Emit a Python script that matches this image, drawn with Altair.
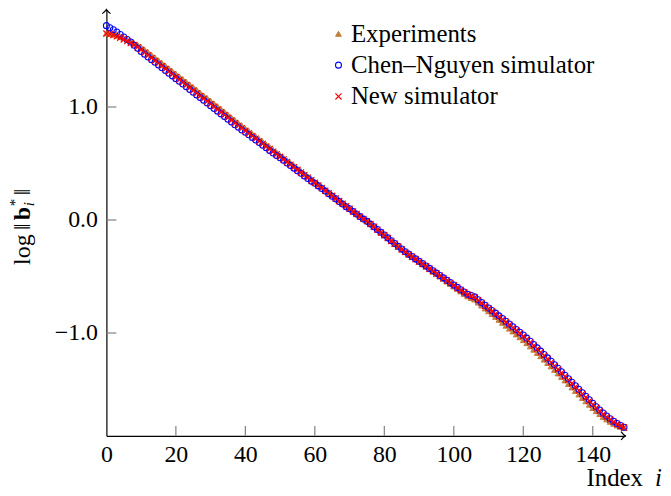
import altair as alt
import pandas as pd

FONT = "Liberation Serif"

series_names = ["Experiments", "Chen–Nguyen simulator", "New simulator"]
x_ticks = [0, 20, 40, 60, 80, 100, 120, 140]
y_ticks = [-1.0, 0.0, 1.0]

index_i = list(range(150))

experiments = [
    1.652, 1.646, 1.640, 1.631, 1.620, 1.608, 1.595, 1.580, 1.565, 1.548,
    1.530, 1.507, 1.484, 1.460, 1.436, 1.412, 1.388, 1.364, 1.340, 1.316,
    1.294, 1.270, 1.246, 1.222, 1.198, 1.174, 1.150, 1.126, 1.102, 1.078,
    1.054, 1.030, 1.006, 0.982, 0.957, 0.932, 0.906, 0.881, 0.857, 0.834,
    0.809, 0.786, 0.762, 0.739, 0.715, 0.692, 0.668, 0.645, 0.621, 0.598,
    0.574, 0.551, 0.527, 0.504, 0.480, 0.457, 0.433, 0.410, 0.386, 0.363,
    0.339, 0.316, 0.292, 0.269, 0.245, 0.222, 0.198, 0.175, 0.151, 0.128,
    0.104, 0.081, 0.057, 0.034, 0.013, -0.008, -0.034, -0.059, -0.085, -0.110,
    -0.135, -0.161, -0.186, -0.211, -0.236, -0.262, -0.284, -0.306, -0.328, -0.349,
    -0.370, -0.392, -0.413, -0.435, -0.457, -0.479, -0.500, -0.522, -0.544, -0.566,
    -0.588, -0.610, -0.632, -0.654, -0.675, -0.690, -0.703, -0.730, -0.757, -0.782,
    -0.807, -0.832, -0.857, -0.883, -0.909, -0.935, -0.961, -0.986, -1.012, -1.037,
    -1.063, -1.090, -1.118, -1.147, -1.176, -1.205, -1.235, -1.265, -1.295, -1.326,
    -1.357, -1.388, -1.419, -1.450, -1.481, -1.512, -1.543, -1.574, -1.604, -1.634,
    -1.663, -1.691, -1.717, -1.742, -1.764, -1.785, -1.803, -1.818, -1.830, -1.841,
]

chen_nguyen = [
    1.720, 1.702, 1.683, 1.663, 1.642, 1.620, 1.598, 1.575, 1.546, 1.520,
    1.491, 1.467, 1.443, 1.419, 1.395, 1.371, 1.347, 1.323, 1.299, 1.275,
    1.251, 1.227, 1.203, 1.179, 1.155, 1.131, 1.107, 1.083, 1.059, 1.035,
    1.011, 0.987, 0.963, 0.939, 0.915, 0.891, 0.867, 0.843, 0.820, 0.797,
    0.777, 0.754, 0.731, 0.708, 0.685, 0.662, 0.639, 0.616, 0.593, 0.570,
    0.551, 0.528, 0.505, 0.482, 0.459, 0.436, 0.413, 0.390, 0.367, 0.344,
    0.325, 0.302, 0.279, 0.256, 0.233, 0.210, 0.187, 0.164, 0.141, 0.118,
    0.099, 0.076, 0.053, 0.030, 0.008, -0.012, -0.036, -0.060, -0.084, -0.108,
    -0.133, -0.158, -0.183, -0.208, -0.233, -0.257, -0.280, -0.302, -0.323, -0.344,
    -0.365, -0.386, -0.407, -0.428, -0.449, -0.470, -0.491, -0.512, -0.533, -0.554,
    -0.575, -0.596, -0.617, -0.637, -0.656, -0.668, -0.680, -0.705, -0.730, -0.754,
    -0.778, -0.801, -0.824, -0.848, -0.872, -0.896, -0.920, -0.944, -0.968, -0.993,
    -1.018, -1.045, -1.073, -1.102, -1.131, -1.160, -1.190, -1.220, -1.250, -1.281,
    -1.312, -1.343, -1.374, -1.405, -1.436, -1.467, -1.498, -1.529, -1.560, -1.591,
    -1.622, -1.652, -1.681, -1.708, -1.734, -1.758, -1.780, -1.800, -1.818, -1.834,
]

new_simulator = [
    1.650, 1.645, 1.636, 1.625, 1.612, 1.598, 1.583, 1.567, 1.549, 1.530,
    1.506, 1.482, 1.458, 1.434, 1.410, 1.386, 1.362, 1.338, 1.314, 1.290,
    1.266, 1.242, 1.218, 1.194, 1.170, 1.146, 1.122, 1.098, 1.074, 1.050,
    1.026, 1.002, 0.978, 0.954, 0.930, 0.906, 0.882, 0.858, 0.835, 0.812,
    0.789, 0.766, 0.743, 0.720, 0.697, 0.674, 0.651, 0.628, 0.605, 0.582,
    0.559, 0.536, 0.513, 0.490, 0.467, 0.444, 0.421, 0.398, 0.375, 0.352,
    0.329, 0.306, 0.283, 0.260, 0.237, 0.214, 0.191, 0.168, 0.145, 0.122,
    0.099, 0.076, 0.053, 0.030, 0.010, -0.010, -0.035, -0.060, -0.085, -0.110,
    -0.135, -0.160, -0.185, -0.210, -0.235, -0.260, -0.282, -0.304, -0.325, -0.346,
    -0.367, -0.388, -0.409, -0.430, -0.451, -0.472, -0.493, -0.514, -0.535, -0.556,
    -0.577, -0.598, -0.619, -0.640, -0.660, -0.672, -0.684, -0.710, -0.735, -0.759,
    -0.783, -0.807, -0.831, -0.855, -0.879, -0.903, -0.927, -0.952, -0.977, -1.002,
    -1.028, -1.055, -1.083, -1.112, -1.141, -1.170, -1.200, -1.230, -1.260, -1.291,
    -1.322, -1.353, -1.384, -1.415, -1.446, -1.477, -1.508, -1.539, -1.570, -1.601,
    -1.632, -1.662, -1.690, -1.717, -1.742, -1.765, -1.786, -1.805, -1.822, -1.836,
]

W = 522
H = 429
X_DOMAIN = [0, 149.35]
Y_DOMAIN = [-1.91, 1.863]

BROWN = "#BF8040"
BLUE = "#0000FF"
RED = "#FF0000"
XPATH = "M-1,-1L1,1M-1,1L1,-1"

rows = []
for name, vals in zip(series_names, [experiments, chen_nguyen, new_simulator]):
    for i, v in zip(index_i, vals):
        rows.append({"i": i, "v": v, "series": name})
df = pd.DataFrame(rows)

legend = alt.Legend(
    orient="none", legendX=211, legendY=12, title=None,
    labelFont=FONT, labelFontSize=25, labelColor="black", labelOffset=0,
    symbolOffset=10,
    rowPadding=5.5, symbolSize=30, symbolStrokeWidth=1.2, padding=0,
    labelLimit=0, symbolOpacity=1,
)

x_enc = alt.X(
    "i:Q",
    scale=alt.Scale(domain=X_DOMAIN, nice=False, zero=False),
    axis=alt.Axis(
        values=x_ticks, title=None, grid=False, ticks=False, tickSize=0,
        labelPadding=7, labelFont=FONT, labelFontSize=24, labelColor="black",
        domainColor="black", domainWidth=1.2, format="d",
        labelFlush=False, labelOverlap=False,
    ),
)
y_enc = alt.Y(
    "v:Q",
    scale=alt.Scale(domain=Y_DOMAIN, nice=False, zero=False),
    axis=alt.Axis(
        values=y_ticks, title=None, grid=False, ticks=False, tickSize=0,
        labelPadding=9, labelFont=FONT, labelFontSize=24, labelColor="black",
        domainColor="black", domainWidth=1.2,
        labelExpr="datum.value < 0 ? '\u2212' + format(-datum.value, '.1f') : format(datum.value, '.1f')",
        labelFlush=False, labelOverlap=False,
    ),
)

points = alt.Chart(df).mark_point(opacity=1).encode(
    x=x_enc,
    y=y_enc,
    shape=alt.Shape("series:N", scale=alt.Scale(domain=series_names, range=["triangle-up", "circle", XPATH]), legend=legend),
    stroke=alt.Stroke("series:N", scale=alt.Scale(domain=series_names, range=[BROWN, BLUE, RED]), legend=legend),
    fill=alt.Fill("series:N", scale=alt.Scale(domain=series_names, range=[BROWN, "transparent", RED]), legend=legend),
    size=alt.Size("series:N", scale=alt.Scale(domain=series_names, range=[34, 38, 30]), legend=legend),
    strokeWidth=alt.StrokeWidth("series:N", scale=alt.Scale(domain=series_names, range=[1.0, 1.15, 1.5]), legend=legend),
)

xticks_layer = alt.Chart(pd.DataFrame({"i": x_ticks[1:]})).mark_rule(color="#808080", strokeWidth=1.2).encode(
    x=alt.X("i:Q"), y=alt.value(H), y2=alt.value(H - 10)
)
yticks_layer = alt.Chart(pd.DataFrame({"v": y_ticks})).mark_rule(color="#808080", strokeWidth=1.2).encode(
    y=alt.Y("v:Q"), x=alt.value(0), x2=alt.value(10)
)

one = pd.DataFrame({"k": [0]})
ARROW = "M-1,1Q-0.25,0.45 0,0Q0.25,0.45 1,1"
arrow_y = alt.Chart(one).mark_point(shape=ARROW, size=70, filled=False, stroke="black", strokeWidth=1.2, opacity=1).encode(
    x=alt.value(0), y=alt.value(0)
)
arrow_x = alt.Chart(one).mark_point(shape=ARROW, size=70, filled=False, stroke="black", strokeWidth=1.2, opacity=1, angle=90).encode(
    x=alt.value(W), y=alt.value(H)
)

def txt(s, x, y, size=24, style="normal", weight="normal", angle=0):
    kw = dict(align="left", baseline="alphabetic", font=FONT, fontSize=size,
              fontStyle=style, fontWeight=weight, color="black")
    if angle:
        kw["angle"] = angle
    return alt.Chart(one).mark_text(**kw).encode(
        x=alt.value(x), y=alt.value(y), text=alt.value(s)
    )

x_title = [
    txt("Index", 483, 479, size=25),
    txt("i", 552, 479, size=25, style="italic"),
]
y_title = [
    txt("log", -77, 257, angle=270),
    txt("\u2016", -77, 222, angle=270),
    txt("b", -77, 212, weight="bold", angle=270),
    txt("*", -87, 198, size=15, angle=270),
    txt("i", -73, 198, size=15, style="italic", angle=270),
    txt("\u2016", -77, 187, angle=270),
]

chart = alt.layer(
    points, xticks_layer, yticks_layer, arrow_y, arrow_x, *x_title, *y_title
).properties(
    width=W, height=H,
    padding={"left": 99, "top": 0, "right": 38, "bottom": 54},
    autosize=alt.AutoSizeParams(type="none"),
).configure_view(stroke=None).configure_axis(grid=False)

chart.save("out.html", embed_options={"renderer": "svg", "actions": False})
